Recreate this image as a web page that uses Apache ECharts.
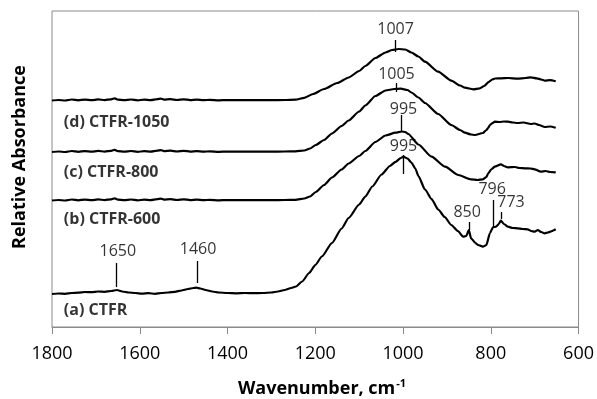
<!DOCTYPE html>
<html>
<head>
<meta charset="utf-8">
<script src="https://cdn.jsdelivr.net/npm/echarts@6/dist/echarts.min.js"></script>
<style>html,body{margin:0;padding:0;background:#fff}#c{width:597px;height:399px}</style>
</head>
<body>
<div id="c"></div>
<script>
// ---- Data (wavenumber cm-1, relative absorbance with vertical offsets) ----
var seriesNames = ['(a) CTFR', '(b) CTFR-600', '(c) CTFR-800', '(d) CTFR-1050'];

var wnD = [1800,1785,1770,1755,1740,1725,1710,1695,1680,1665,1657,1650,1635,1620,1605,1590,1575,1560,1552,1545,1530,1515,1500,1485,1470,1455,1440,1420,1400,1370,1340,1300,1270,1245,1225,1205,1180,1150,1124,1100,1086,1063,1040,1025,1010,995,981,965,950,920,890,870,859,840,825,815,805,797,790,777,760,739,720,709,695,685,677,665,652];
var absD = [2.265,2.27,2.265,2.275,2.267,2.274,2.268,2.276,2.269,2.277,2.287,2.274,2.268,2.275,2.267,2.273,2.268,2.278,2.284,2.274,2.278,2.27,2.277,2.269,2.274,2.268,2.272,2.267,2.27,2.268,2.27,2.268,2.27,2.274,2.292,2.33,2.38,2.44,2.495,2.56,2.61,2.69,2.745,2.77,2.78,2.775,2.745,2.705,2.653,2.553,2.463,2.415,2.393,2.377,2.387,2.41,2.45,2.475,2.485,2.487,2.49,2.483,2.49,2.497,2.487,2.475,2.463,2.468,2.457];

var wnC = [1800,1785,1770,1755,1740,1725,1710,1695,1680,1665,1657,1650,1635,1620,1605,1590,1575,1560,1552,1545,1530,1515,1500,1485,1470,1455,1440,1420,1400,1370,1340,1300,1270,1245,1225,1212,1199,1180,1162,1140,1124,1100,1086,1063,1040,1020,1005,990,981,965,950,920,890,870,859,845,836,818,810,806,802,796,791,780,770,761,750,739,725,709,700,690,677,665,652];
var absC = [1.75,1.755,1.75,1.76,1.752,1.759,1.753,1.761,1.754,1.762,1.772,1.759,1.753,1.76,1.752,1.758,1.753,1.763,1.769,1.759,1.763,1.755,1.762,1.754,1.759,1.753,1.757,1.752,1.755,1.753,1.755,1.753,1.755,1.757,1.765,1.785,1.82,1.87,1.935,2.01,2.065,2.155,2.215,2.31,2.365,2.38,2.383,2.37,2.345,2.295,2.24,2.13,2.02,1.97,1.943,1.925,1.92,1.94,1.97,1.99,2.02,2.04,2.053,2.05,2.055,2.053,2.045,2.04,2.045,2.03,2.035,2.02,2.00,2.005,1.993];

var wnB = [1800,1785,1770,1755,1740,1725,1710,1695,1680,1665,1657,1650,1635,1620,1605,1590,1575,1560,1552,1545,1530,1515,1500,1485,1470,1455,1440,1420,1400,1370,1340,1300,1270,1245,1225,1212,1199,1180,1162,1140,1124,1100,1086,1063,1040,1017,1003,995,988,965,935,904,874,845,830,818,810,806,798,791,777,770,761,745,735,722,710,700,686,675,665,652];
var absB = [1.265,1.27,1.265,1.275,1.267,1.274,1.268,1.276,1.269,1.277,1.287,1.274,1.268,1.275,1.267,1.273,1.268,1.278,1.284,1.274,1.278,1.27,1.277,1.269,1.274,1.268,1.272,1.267,1.27,1.268,1.27,1.268,1.27,1.272,1.285,1.305,1.35,1.42,1.495,1.575,1.635,1.71,1.76,1.85,1.915,1.943,1.955,1.95,1.93,1.825,1.703,1.603,1.52,1.477,1.47,1.477,1.50,1.537,1.58,1.603,1.627,1.61,1.597,1.60,1.59,1.587,1.585,1.577,1.553,1.56,1.55,1.547];

var wnA = [1800,1785,1770,1755,1740,1725,1710,1695,1680,1665,1652,1640,1625,1610,1595,1580,1565,1550,1535,1520,1505,1490,1478,1471,1462,1450,1435,1420,1400,1380,1360,1340,1320,1300,1285,1270,1255,1244,1230,1214,1200,1185,1162,1140,1124,1100,1086,1070,1049,1030,1017,1005,999,990,981,972,965,950,935,920,905,890,875,863,856,850,845,835,829,818,810,802,795,788,782,777,770,761,750,739,728,716,708,700,693,685,677,670,664,658,652];
var absA = [0.33,0.335,0.332,0.34,0.343,0.35,0.348,0.355,0.352,0.36,0.37,0.355,0.345,0.34,0.333,0.338,0.332,0.34,0.345,0.352,0.365,0.38,0.39,0.393,0.385,0.37,0.355,0.345,0.34,0.337,0.34,0.338,0.34,0.345,0.355,0.37,0.39,0.405,0.455,0.54,0.62,0.705,0.84,0.985,1.09,1.225,1.305,1.405,1.525,1.61,1.652,1.69,1.703,1.685,1.645,1.585,1.51,1.375,1.28,1.175,1.10,1.02,0.96,0.903,0.91,0.97,0.887,0.84,0.82,0.803,0.82,0.94,0.997,1.003,1.03,1.063,1.03,1.003,0.99,0.987,0.98,0.977,0.96,0.953,0.97,0.95,0.937,0.945,0.953,0.965,0.977];

// series label anchors
var nameLabelWn = [1773, 1773, 1773, 1773];
var nameLabelY = [0.17, 1.08, 1.55, 2.05];

// peak annotations
var annoLabels = ['1007','1005','995','995','850','796','773','1650','1460'];
var annoLineWn = [1017,1015,1004,999,849,795,777,1653,1469];
var annoLineTop = [2.87,2.44,2.12,1.72,1.05,1.27,1.15,0.64,0.66];
var annoLineBottom = [2.75,2.35,1.95,1.53,0.97,1.00,1.08,0.40,0.44];
var annoTextWn = [1017,1015,999,999,854,797,754,1650,1467];
var annoTextY = [2.98,2.53,2.18,1.81,1.15,1.38,1.25,0.753,0.78];

var xTicks = [1800,1600,1400,1200,1000,800,600];

// ---- Build ----
function pairs(w, a){ return w.map(function(v,i){ return [v, a[i]]; }); }
var curves = [pairs(wnA,absA), pairs(wnB,absB), pairs(wnC,absC), pairs(wnD,absD)];

var series = curves.map(function(d, i){
  return {
    name: seriesNames[i], type: 'line', data: d, showSymbol: false,
    smooth: 0.2, smoothMonotone: 'x',
    lineStyle: {color: '#000', width: 2.2}, silent: true, z: 3
  };
});

series.push({
  type: 'scatter', symbolSize: 0, silent: true, z: 5,
  data: seriesNames.map(function(n,i){ return {value:[nameLabelWn[i], nameLabelY[i]], name:n}; }),
  label: {show: true, position: 'right', distance: 0, formatter: '{b}',
          fontFamily: 'Open Sans', fontWeight: 'bold', fontSize: 16, color: '#000'}
});

series.push({
  type: 'scatter', symbolSize: 0, silent: true, z: 5,
  data: annoLabels.map(function(t,i){ return {value:[annoTextWn[i], annoTextY[i]], name:t}; }),
  label: {show: true, position: 'inside', formatter: '{b}',
          fontFamily: 'Open Sans', fontSize: 16, color: '#000'},
  markLine: {
    silent: true, symbol: ['none','none'], animation: false,
    lineStyle: {color: '#000', width: 1.3, type: 'solid'},
    label: {show: false},
    data: annoLabels.map(function(t,i){
      return [{coord:[annoLineWn[i], annoLineTop[i]]}, {coord:[annoLineWn[i], annoLineBottom[i]]}];
    })
  }
});

var chart = echarts.init(document.getElementById('c'), null, {renderer: 'canvas'});
chart.setOption({
  animation: false,
  backgroundColor: '#fff',
  grid: {left: 52, right: 16, top: 11, bottom: 72, show: true, borderColor: '#8a8a8a', borderWidth: 1},
  xAxis: {
    type: 'value', inverse: true, min: 600, max: 1800, interval: 200,
    axisLine: {show: true, lineStyle: {color: '#8a8a8a', width: 1}},
    axisTick: {show: true, inside: false, length: 7, lineStyle: {color: '#8a8a8a'}},
    splitLine: {show: false},
    axisLabel: {fontFamily: 'Open Sans', fontSize: 18, color: '#000', margin: 18,
      formatter: function(v){ return xTicks.indexOf(v) >= 0 ? String(v) : ''; }}
  },
  yAxis: {
    type: 'value', min: 0, max: 3.16,
    axisLine: {show: false}, axisTick: {show: false}, axisLabel: {show: false}, splitLine: {show: false}
  },
  graphic: [
    {type: 'text', x: 322, y: 389, silent: true,
     style: {text: '{t|Wavenumber, cm}{s|-1}', align: 'center', verticalAlign: 'middle',
       rich: {t: {fontFamily: 'Open Sans', fontWeight: 'bold', fontSize: 18, fill: '#000', lineHeight: 22},
              s: {fontFamily: 'Open Sans', fontWeight: 'bold', fontSize: 11, fill: '#000', lineHeight: 22, padding: [0,0,10,1]}}}},
    {type: 'text', x: 20, y: 157, rotation: Math.PI/2, silent: true,
     style: {text: 'Relative Absorbance', align: 'center', verticalAlign: 'middle',
       fontFamily: 'Open Sans', fontWeight: 'bold', fontSize: 18, fill: '#000'}}
  ],
  series: series
});
</script>
</body>
</html>
